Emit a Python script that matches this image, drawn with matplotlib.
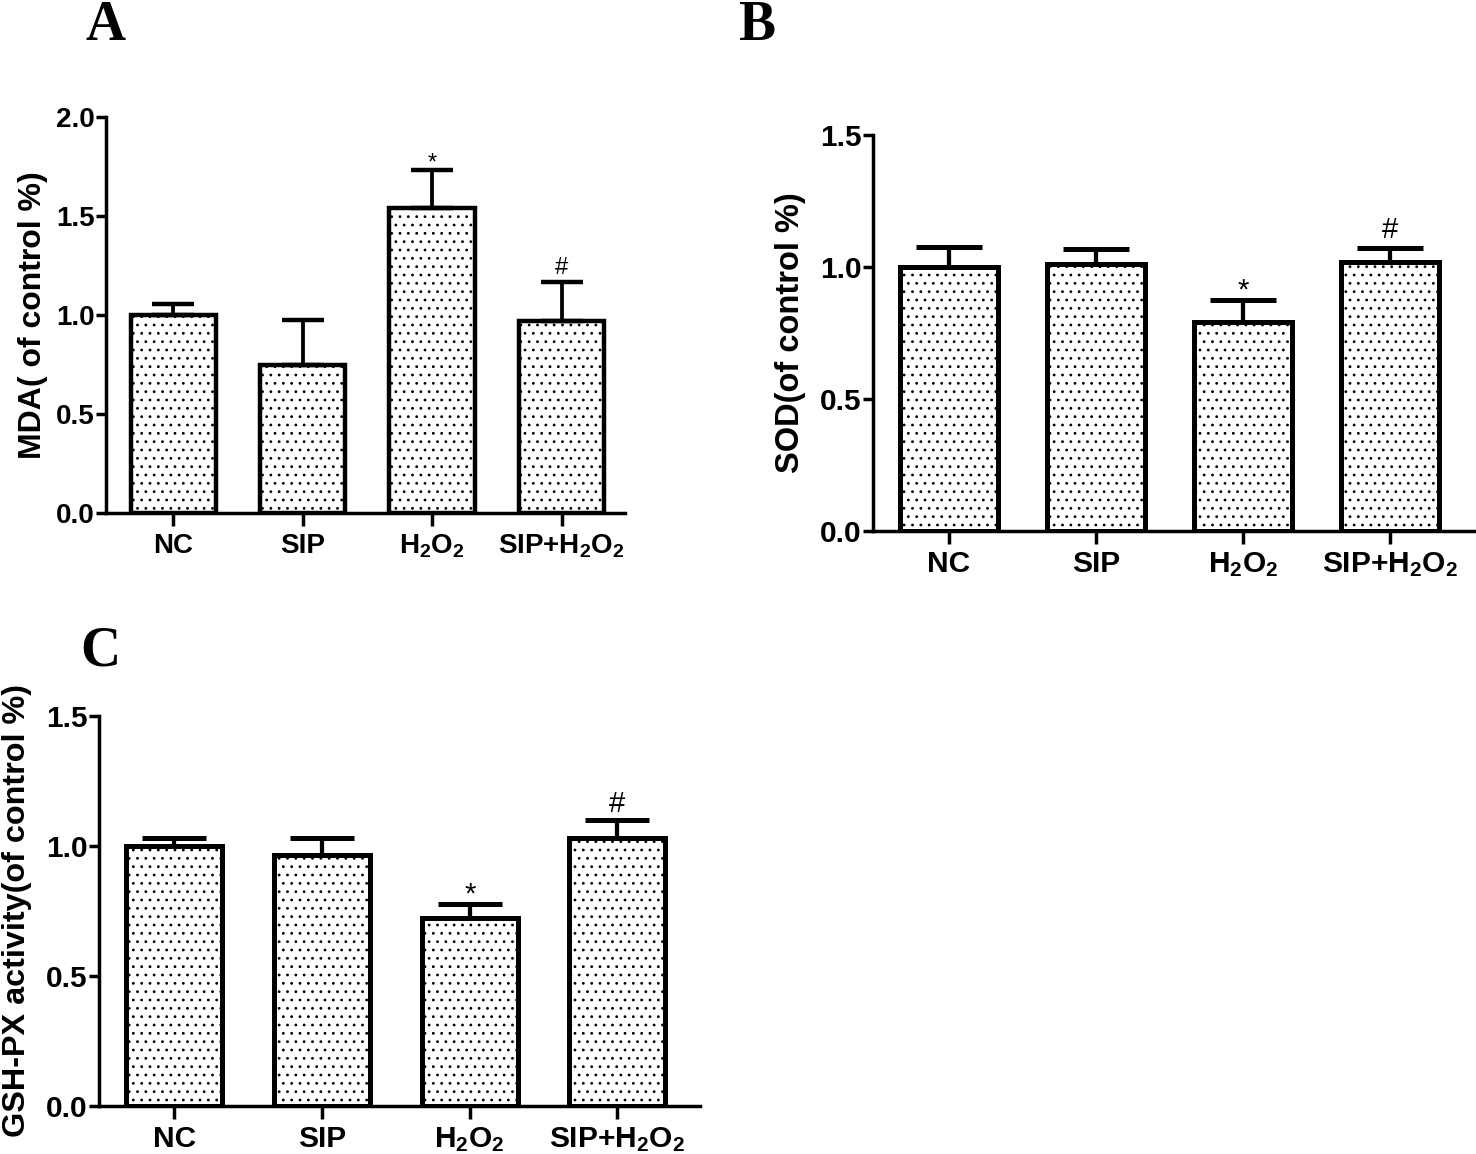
import numpy as np
import matplotlib
matplotlib.use("Agg")
import matplotlib.pyplot as plt

plt.rcParams['font.family'] = ['Liberation Sans', 'DejaVu Sans']
plt.rcParams['font.weight'] = 'bold'
plt.rcParams['mathtext.fontset'] = 'custom'
plt.rcParams['mathtext.bf'] = 'Liberation Sans:bold'
plt.rcParams['mathtext.rm'] = 'Liberation Sans:bold'
plt.rcParams['mathtext.default'] = 'bf'
plt.rcParams['hatch.color'] = 'black'
plt.rcParams['hatch.linewidth'] = 0.8

# groups
categories = ['NC', 'SIP', 'H$_2$O$_2$', 'SIP+H$_2$O$_2$']
marks = ['', '', '*', '#']

# A: MDA
mda_mean = [1.00, 0.75, 1.54, 0.97]
mda_err = [0.055, 0.225, 0.19, 0.195]
# B: SOD
sod_mean = [1.00, 1.01, 0.79, 1.02]
sod_err = [0.075, 0.057, 0.085, 0.053]
# C: GSH-PX
gsh_mean = [1.00, 0.965, 0.723, 1.031]
gsh_err = [0.031, 0.066, 0.054, 0.069]


def panel(ax, means, errs, ylabel, ymax, xlim, width, fs, lfs, capsize, lw, mark_fs, mark_off):
    x = np.arange(len(categories))
    lower = np.zeros(len(errs))
    ax.bar(x, means, width=width, color='white', edgecolor='black', linewidth=lw,
           hatch='..', yerr=[lower, errs], capsize=capsize,
           error_kw=dict(elinewidth=lw * 0.85, capthick=lw, ecolor='black'))
    for xi, m, e, t in zip(x, means, errs, marks):
        if t:
            ax.annotate(t, (xi, m + e), xytext=(0, mark_off[t]), textcoords='offset points',
                        ha='center', va='baseline', fontsize=mark_fs, fontweight='normal')
    ax.set_ylim(0, ymax)
    ax.set_xlim(*xlim)
    ax.set_yticks(np.arange(0, ymax + 0.01, 0.5))
    ax.set_yticklabels([f'{v:.1f}' for v in np.arange(0, ymax + 0.01, 0.5)])
    ax.set_xticks(x)
    ax.set_xticklabels(categories)
    for s in ['top', 'right']:
        ax.spines[s].set_visible(False)
    for s in ['left', 'bottom']:
        ax.spines[s].set_linewidth(2.5)
    ax.tick_params(axis='y', direction='out', length=7, width=2.5, pad=1, labelsize=fs)
    ax.tick_params(axis='x', direction='out', length=9, width=2.5, pad=5, labelsize=fs)
    ax.set_ylabel(ylabel, fontsize=lfs, fontweight='bold')
    ax.yaxis.set_label_coords(-0.112, 0.5)


fig = plt.figure(figsize=(14.76, 11.54), dpi=100)

axA = fig.add_axes([0.0718, 0.5554, 0.3516, 0.3432])
panel(axA, mda_mean, mda_err, 'MDA( of control %)', 2.0, (-0.52, 3.49), 0.66,
      20, 23, 15, 3.2, 17, {'*': 1, '#': 6})

axB = fig.add_axes([0.5915, 0.5399, 0.4085, 0.3432])
panel(axB, sod_mean, sod_err, 'SOD(of control %)', 1.5, (-0.517, 3.585), 0.667,
      21.5, 23.5, 24, 3.6, 21, {'*': 1, '#': 7})

axC = fig.add_axes([0.0671, 0.0416, 0.4072, 0.3380])
panel(axC, gsh_mean, gsh_err, 'GSH-PX activity(of control %)', 1.5, (-0.51, 3.56), 0.65,
      21.5, 23.3, 23, 3.6, 21, {'*': 1, '#': 6})

for lab, (px, py) in zip(['A', 'B', 'C'], [(85, 40), (738, 40), (80, 665)]):
    fig.text(px / 1476, 1 - py / 1154, lab, fontsize=40, fontweight='bold',
             family=['Liberation Serif', 'DejaVu Serif'], ha='left', va='baseline')

fig.savefig('out.png', dpi=100)
